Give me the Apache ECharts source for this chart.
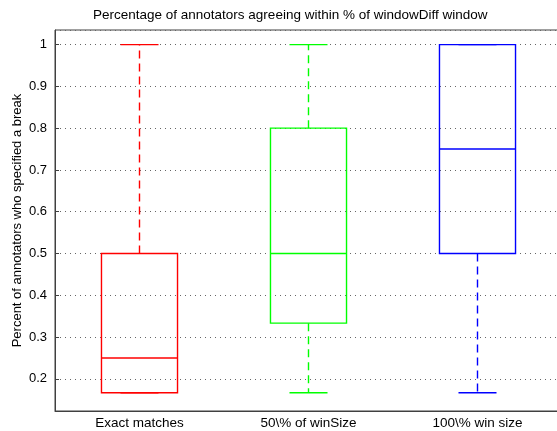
<!DOCTYPE html>
<html>
<head>
	<meta charset="UTF-8">
	<title>windowDiff boxplot</title>
	<script src="https://cdn.jsdelivr.net/npm/echarts@6/dist/echarts.min.js"></script>
	<style>
		html, body { margin: 0; padding: 0; background: #fff; }
		#chart1 { width: 557px; height: 431px; }
	</style>
</head>
<body>
	<div id="chart1"></div>
<script type="text/javascript">
	// data
	var categories = ['Exact matches', '50\\% of winSize', '100\\% win size'];
	var lowWhisker = [0.1667, 0.1667, 0.1667];
	var q1 = [0.1667, 0.3333, 0.5];
	var median = [0.25, 0.5, 0.75];
	var q3 = [0.5, 0.8, 1];
	var highWhisker = [1, 1, 1];
	var colors = ['#ff0000', '#00ff00', '#0000ff'];

	var boxData = categories.map(function (c, i) {
		return [i, lowWhisker[i], q1[i], median[i], q3[i], highWhisker[i]];
	});

	var chart1 = echarts.init(document.getElementById('chart1'));

	function renderBox(params, api) {
		var idx = params.dataIndex;
		var band = api.size([1, 0])[0];
		var boxW = band * 0.45;
		var capW = boxW * 0.5;
		var yLow = api.coord([idx, api.value(1)])[1];
		var yQ1 = api.coord([idx, api.value(2)])[1];
		var yMed = api.coord([idx, api.value(3)])[1];
		var yQ3 = api.coord([idx, api.value(4)])[1];
		var yHigh = api.coord([idx, api.value(5)])[1];
		var cx = api.coord([idx, api.value(3)])[0];
		var col = colors[idx];
		function seg(x1, y1, x2, y2, dash) {
			return {
				type: 'polyline',
				shape: { points: [[x1, y1], [x2, y2]] },
				style: { stroke: col, fill: 'none', lineWidth: 1.4, lineDash: dash ? [8, 5] : null }
			};
		}
		var kids = [];
		if (yHigh < yQ3) kids.push(seg(cx, yQ3, cx, yHigh, true));
		if (yLow > yQ1) kids.push(seg(cx, yQ1, cx, yLow, true));
		kids.push(seg(cx - capW / 2, yHigh, cx + capW / 2, yHigh));
		kids.push(seg(cx - capW / 2, yLow, cx + capW / 2, yLow));
		kids.push({
			type: 'rect',
			shape: { x: cx - boxW / 2, y: yQ3, width: boxW, height: yQ1 - yQ3 },
			style: { stroke: col, fill: 'none', lineWidth: 1.4 }
		});
		kids.push(seg(cx - boxW / 2, yMed, cx + boxW / 2, yMed));
		return { type: 'group', children: kids };
	}

	var option = {
		animation: false,
		textStyle: { fontFamily: 'Liberation Sans, Arial, sans-serif' },
		title: {
			text: 'Percentage of annotators agreeing within % of windowDiff window',
			left: 88,
			top: 3,
			textStyle: { fontSize: 13.5, fontWeight: 'normal', color: '#000', fontFamily: 'Liberation Sans' }
		},
		grid: {
			left: 55, top: 30, width: 507, height: 381,
			show: true, borderColor: '#404040', borderWidth: 1,
			containLabel: false,
			outerBoundsMode: 'none'
		},
		xAxis: {
			type: 'category',
			data: categories,
			axisLine: { lineStyle: { color: '#404040' } },
			axisTick: { show: false },
			axisLabel: { color: '#000', fontSize: 13.5, margin: 5 },
			splitLine: { show: false }
		},
		yAxis: {
			type: 'value',
			min: 0.123,
			max: 1.035,
			splitNumber: 9,
			name: 'Percent of annotators who specified a break',
			nameLocation: 'middle',
			nameGap: 31,
			nameMoveOverlap: false,
			nameTextStyle: { color: '#000', fontSize: 13 },
			axisLine: { show: true, lineStyle: { color: '#404040' } },
			axisTick: { show: true, inside: true, length: 4, lineStyle: { color: '#404040' } },
			axisLabel: { color: '#000', fontSize: 13, margin: 8, showMinLabel: false, showMaxLabel: false },
			splitLine: { show: true, lineStyle: { color: '#666', type: [1, 4], width: 1 } }
		},
		series: [{
			type: 'custom',
			renderItem: renderBox,
			encode: { x: 0, y: [1, 2, 3, 4, 5] },
			data: boxData,
			z: 5,
			clip: false
		}]
	};

	chart1.setOption(option);
</script>
</body>
</html>
